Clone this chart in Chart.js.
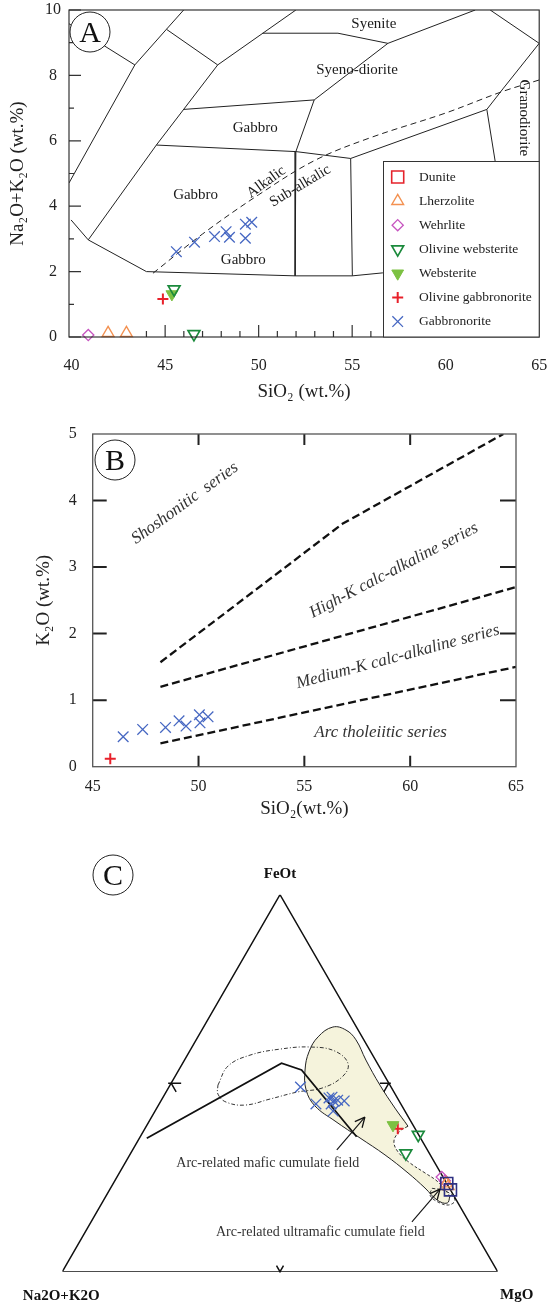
<!DOCTYPE html>
<html><head><meta charset="utf-8">
<script src="https://cdn.jsdelivr.net/npm/chart.js@4.4.1/dist/chart.umd.min.js"></script>
<style>
html,body{margin:0;padding:0;background:#fff;}
body{width:548px;height:1307px;position:relative;overflow:hidden;}
canvas{position:absolute;left:0;}
</style></head><body>
<canvas id="cA" width="548" height="415" style="top:0px"></canvas>
<canvas id="cB" width="548" height="420" style="top:420px"></canvas>
<canvas id="cC" width="548" height="467" style="top:840px"></canvas>
<script>
const SERIF = "'Liberation Serif','Times New Roman',Times,serif";
const SQ3 = Math.sqrt(3);

/* ===== shared categories ===== */
const rockTypes = ['Dunite','Lherzolite','Wehrlite','Olivine websterite','Websterite','Olivine gabbronorite','Gabbronorite'];

/* ===== Panel A : TAS (SiO2, Na2O+K2O) ===== */
const tasXTicks = [40,45,50,55,60,65];
const tasYTicks = [0,2,4,6,8,10];
const tasXMajorMarks = [45,50,55];
const tasXMinorMarks = [44,46,47,48,49,51,52,53,54,56,57,58,59,60,61,62,63,64];
const tasYMinorMarks = [1,3,5,7,9];
const tasDunite = [];
const tasLherzolite = [[41.95,0.12],[42.93,0.12]];
const tasWehrlite = [[40.89,0.06]];
const tasOlWebsterite = [[45.48,1.46],[46.54,0.09]];
const tasWebsterite = [[45.36,1.31]];
const tasOlGabbronorite = [[44.88,1.16]];
const tasGabbronorite = [[45.60,2.61],[46.57,2.90],[47.64,3.07],[48.26,3.22],[48.44,3.05],[49.29,3.45],[49.63,3.51],[49.29,3.02]];
const tasFieldLines = [
  [[39.86,4.71],[43.38,8.32],[45.07,9.41],[45.99,10]],
  [[39.86,9.58],[43.38,8.32]],
  [[45.07,9.41],[47.81,8.32]],
  [[51.99,10],[47.81,8.32],[44.53,5.87],[40.89,2.97]],
  [[50.21,9.29],[54.24,9.29],[56.91,8.98]],
  [[61.58,10],[56.91,8.98],[52.97,7.25],[51.99,5.67],[51.95,1.87]],
  [[45.99,6.96],[52.97,7.25]],
  [[62.38,10],[65,8.98]],
  [[65,8.98],[63.09,7.61],[62.2,6.96],[62.65,5.36],[62.7,4.9]],
  [[54.92,5.46],[62.2,6.96]],
  [[44.53,5.87],[51.99,5.67],[54.92,5.46],[55.01,1.87]],
  [[39.97,3.58],[40.89,2.97],[44.0,2.0],[51.95,1.87],[55.01,1.87],[56.61,1.96],[58.5,2.05]]
];
const tasAlkalineDivide = [[44.35,1.95],[47,3.15],[50,4.35],[53,5.4],[56,6.1],[60,6.85],[63,7.5],[65,7.86]];
const tasFieldLabels = [
  {text:'Syenite', x:56.16, y:9.57, rot:0},
  {text:'Syeno-diorite', x:55.26, y:8.17, rot:0},
  {text:'Gabbro', x:49.82, y:6.39, rot:0},
  {text:'Gabbro', x:46.63, y:4.34, rot:0},
  {text:'Gabbro', x:49.18, y:2.35, rot:0},
  {text:'Alkalic', x:50.41, y:4.74, rot:-36},
  {text:'Sub-alkalic', x:52.22, y:4.62, rot:-31},
  {text:'Granodiorite', x:64.21, y:6.70, rot:90}
];

/* ===== Panel B : SiO2 vs K2O ===== */
const k2oXTicks = [45,50,55,60,65];
const k2oYTicks = [0,1,2,3,4,5];
const k2oXMarks = [50,55,60];
const k2oYMarks = [1,2,3,4];
const k2oOlGabbronorite = [[45.83,0.12]];
const k2oGabbronorite = [[46.44,0.45],[47.36,0.56],[48.44,0.59],[49.08,0.69],[49.41,0.61],[50.04,0.78],[50.07,0.66],[50.45,0.75]];
const k2oShoshoniticLine = [[48.2,1.57],[56.8,3.65],[64.4,5.0]];
const k2oHighKLine = [[48.2,1.2],[65,2.7]];
const k2oTholeiiticLine = [[48.2,0.35],[65,1.5]];
const k2oSeriesLabels = [
  {text:'Shoshonitic  series', x:49.36, y:3.96, rot:-36},
  {text:'High-K calc-alkaline series', x:59.23, y:2.95, rot:-27.6},
  {text:'Medium-K calc-alkaline series', x:59.42, y:1.65, rot:-15},
  {text:'Arc tholeiitic series', x:58.6, y:0.52, rot:0}
];

/* ===== Panel C : AFM ternary [Na2O+K2O, FeOt, MgO] ===== */
const afmTriangle = [[100,0,0],[0,100,0],[0,0,100],[100,0,0]];
const afmDunite = [[0,23.4,76.6],[0,21.7,78.3]];
const afmLherzolite = [[0.1,23.4,76.5],[0,22.7,77.3]];
const afmWehrlite = [[0.3,25.1,74.6],[0.1,24.1,75.8]];
const afmOlWebsterite = [[0.1,36.3,63.6],[5.4,31.4,63.2]];
const afmWebsterite = [[4.6,38.9,56.5]];
const afmOlGabbronorite = [[4.0,37.9,58.1]];
const afmGabbronorite = [[20.8,49.0,30.2],[19.5,44.5,36.0],[15.7,46.1,38.2],[14.9,46.3,38.8],[15.0,45.3,39.7],[14.0,45.5,40.5],[12.6,45.3,42.1],[16.5,42.6,40.9],[16.0,44.5,39.5]];
const afmTholCalcLine = [[62.9,35.4,1.7],[22.0,55.3,22.7],[18.3,53.5,28.2],[14.5,35.8,49.7]];
const afmDashedField = [[39.5,49.5,11.0],[34.7,54.6,10.8],[28.2,57.5,14.4],[20.5,59.1,20.5],[13.3,59.6,27.1],[8.1,58.5,33.4],[6.8,55.1,38.1],[9.9,51.6,38.4],[16.0,48.7,35.3],[22.0,47.7,30.3],[29.4,45.8,24.8],[35.9,44.2,19.9],[39.9,45.0,15.1],[40.7,47.1,12.2],[39.5,49.5,11.0]];
const afmShadedField = [[0.9,20.1,79.0],[2.5,18.2,79.3],[4.4,19.0,76.6],[5.6,22.2,72.2],[7.5,26.2,66.3],[10.4,31.0,58.7],[13.9,35.5,50.7],[17.4,40.0,42.7],[20.0,44.0,36.1],[19.9,48.2,31.9],[17.5,53.5,29.0],[14.2,58.3,27.5],[10.1,62.3,27.6],[5.4,64.9,29.7],[2.8,64.1,33.1],[1.8,61.5,36.7],[2.2,56.2,41.7],[2.3,49.5,48.2],[1.9,43.4,54.7],[1.3,38.6,60.1],[3.8,37.3,58.9],[6.5,34.7,58.9],[7.0,31.8,61.2],[5.7,28.8,65.4],[3.6,26.2,70.2],[1.8,23.8,74.4],[0.9,20.1,79.0]];
const afmTipField = [[4.0,22.1,73.8],[1.2,21.4,77.4],[0.3,19.0,80.7],[2.4,17.7,79.9],[4.5,18.5,77.0],[5.4,20.3,74.3],[4.0,22.1,73.8]];
const afmArrows = [[[20.8,32.3,46.9],[10.0,41.0,49.0]], [[13.1,13.2,73.7],[2.3,21.9,75.8]]];
const afmFieldLabels = [
  {text:'Arc-related mafic cumulate field', at:[38.4,28.8,32.8]},
  {text:'Arc-related ultramafic cumulate field', at:[35.5,10.5,54.0]}
];

/* ===== styles ===== */
const rockStyle = {
  'Dunite': {pointStyle:'rect', rotation:0, radius:8.5, color:'#e5232b', fill:'rgba(0,0,0,0)', width:1.6},
  'Lherzolite': {pointStyle:'triangle', rotation:0, radius:6.8, color:'#f39151', fill:'rgba(0,0,0,0)', width:1.4},
  'Wehrlite': {pointStyle:'rectRot', rotation:0, radius:5.6, color:'#c755c0', fill:'rgba(0,0,0,0)', width:1.3},
  'Olivine websterite': {pointStyle:'triangle', rotation:180, radius:6.8, color:'#1b8a3c', fill:'rgba(0,0,0,0)', width:1.7},
  'Websterite': {pointStyle:'triangle', rotation:180, radius:6.8, color:'#7cc142', fill:'#7cc142', width:1},
  'Olivine gabbronorite': {pointStyle:'cross', rotation:0, radius:5.5, color:'#e8202a', fill:'#e8202a', width:2},
  'Gabbronorite': {pointStyle:'crossRot', rotation:0, radius:7.5, color:'#4667c2', fill:'#4667c2', width:1.3}
};

function toPts(arr){ return arr.map(p => ({x:p[0], y:p[1]})); }
function afmXY(t){ const s=t[0]+t[1]+t[2]; const f=t[1]/s*100, m=t[2]/s*100; return [m+f/2, f*SQ3/2]; }
function afmPts(arr){ return arr.map(afmXY); }
function markerDS(name, arr, extra){
  const s = rockStyle[name];
  return Object.assign({
    label:name, data:toPts(arr), showLine:false, clip:false, order:0,
    pointStyle:s.pointStyle, pointRotation:s.rotation, pointRadius:s.radius,
    pointBorderColor:s.color, pointBackgroundColor:s.fill, pointBorderWidth:s.width,
    borderColor:s.color, backgroundColor:s.fill
  }, extra || {});
}
function lineDS(arr, extra){
  return Object.assign({
    label:'', data:toPts(arr), showLine:true, pointRadius:0, borderColor:'#222', borderWidth:1,
    fill:false, tension:0, order:10, borderCapStyle:'butt'
  }, extra || {});
}
function axis(min, max, ticks, extra){
  return Object.assign({
    type:'linear', min, max,
    afterBuildTicks: s => { s.ticks = ticks.map(v => ({value:v})); },
    grid:{display:false, drawTicks:false}, border:{display:false}
  }, extra || {});
}
function baseOptions(padding, scales){
  return {responsive:false, animation:false, events:[], layout:{padding},
    plugins:{legend:{display:false}, tooltip:{enabled:false}}, scales};
}
function badge(ctx, cx, cy, letter){
  ctx.save();
  ctx.beginPath(); ctx.arc(cx, cy, 20, 0, Math.PI*2);
  ctx.fillStyle='#fff'; ctx.fill(); ctx.lineWidth=1; ctx.strokeStyle='#222'; ctx.stroke();
  ctx.fillStyle='#111'; ctx.font='30px '+SERIF; ctx.textAlign='center'; ctx.textBaseline='middle';
  ctx.fillText(letter, cx, cy+2);
  ctx.restore();
}
function rotText(ctx, text, px, py, rot){
  ctx.save(); ctx.translate(px, py); ctx.rotate(rot*Math.PI/180); ctx.fillText(text, 0, 0); ctx.restore();
}

/* ===== Panel A chart ===== */
const tasSeries = {'Dunite':tasDunite,'Lherzolite':tasLherzolite,'Wehrlite':tasWehrlite,'Olivine websterite':tasOlWebsterite,'Websterite':tasWebsterite,'Olivine gabbronorite':tasOlGabbronorite,'Gabbronorite':tasGabbronorite};
const tasDecor = {
  id:'tasDecor',
  afterDatasetsDraw(chart){
    const {ctx, chartArea:a, scales:{x, y}} = chart;
    ctx.save();
    ctx.strokeStyle='#333'; ctx.lineWidth=1.2; ctx.beginPath();
    tasYTicks.forEach(v => { const p=y.getPixelForValue(v); ctx.moveTo(a.left,p); ctx.lineTo(a.left+12,p); });
    tasYMinorMarks.forEach(v => { const p=y.getPixelForValue(v); ctx.moveTo(a.left,p); ctx.lineTo(a.left+5,p); });
    tasXMajorMarks.forEach(v => { const p=x.getPixelForValue(v); ctx.moveTo(p,a.bottom); ctx.lineTo(p,a.bottom-12); });
    tasXMinorMarks.forEach(v => { const p=x.getPixelForValue(v); ctx.moveTo(p,a.bottom); ctx.lineTo(p,a.bottom-6); });
    ctx.stroke();
    ctx.lineWidth=1.1; ctx.strokeStyle='#222';
    ctx.strokeRect(a.left, a.top, a.right-a.left, a.bottom-a.top);
    ctx.fillStyle='#1a1a1a'; ctx.textAlign='center'; ctx.textBaseline='middle'; ctx.font='15px '+SERIF;
    tasFieldLabels.forEach(l => rotText(ctx, l.text, x.getPixelForValue(l.x), y.getPixelForValue(l.y), l.rot));
    // legend box
    const L = {left:383.5, top:161.5, right:a.right, bottom:a.bottom};
    ctx.fillStyle='#fff'; ctx.fillRect(L.left, L.top, L.right-L.left, L.bottom-L.top);
    ctx.strokeStyle='#333'; ctx.lineWidth=1; ctx.strokeRect(L.left, L.top, L.right-L.left, L.bottom-L.top);
    rockTypes.forEach((name, i) => {
      const s = rockStyle[name]; const cy = L.top + 15.5 + i*24.1;
      ctx.save();
      ctx.strokeStyle=s.color; ctx.fillStyle=s.fill; ctx.lineWidth=s.width;
      if (Chart.helpers && Chart.helpers.drawPoint) {
        Chart.helpers.drawPoint(ctx, {pointStyle:s.pointStyle, rotation:s.rotation, radius:s.radius, borderWidth:s.width}, 397.7, cy);
      }
      ctx.restore();
      ctx.fillStyle='#222'; ctx.font='13.5px '+SERIF; ctx.textAlign='left'; ctx.textBaseline='middle';
      ctx.fillText(name, 419, cy);
    });
    badge(ctx, 90, 32, 'A');
    ctx.restore();
  }
};
new Chart(document.getElementById('cA'), {
  type:'line',
  data:{datasets:[
    ...rockTypes.map(n => markerDS(n, tasSeries[n])),
    ...tasFieldLines.map(l => lineDS(l)),
    lineDS(tasAlkalineDivide, {borderDash:[6,4], tension:0.35})
  ]},
  options: baseOptions({top:10, right:7, left:0, bottom:0}, {
    x: axis(39.86, 65, tasXTicks, {
      afterFit: s => { s.height = 78; s.paddingLeft = 0; s.paddingRight = 0; },
      ticks:{font:{family:SERIF, size:16}, color:'#222', padding:19, labelOffset:0, maxRotation:0, autoSkip:false},
      title:{display:true, text:'SiO₂ (wt.%)', font:{family:SERIF, size:19}, color:'#222', padding:{top:0, bottom:12}}
    }),
    y: axis(0, 10, tasYTicks, {
      afterFit: s => { s.width = 69; s.paddingTop = 0; s.paddingBottom = 0; },
      ticks:{font:{family:SERIF, size:16}, color:'#222', padding:8, crossAlign:'center', autoSkip:false},
      title:{display:true, text:'Na₂O+K₂O (wt.%)', font:{family:SERIF, size:19}, color:'#222', padding:{top:7, bottom:0}}
    })
  }),
  plugins:[tasDecor]
});

/* ===== Panel B chart ===== */
const k2oDecor = {
  id:'k2oDecor',
  afterDatasetsDraw(chart){
    const {ctx, chartArea:a, scales:{x, y}} = chart;
    ctx.save();
    ctx.strokeStyle='#222'; ctx.lineWidth=2; ctx.beginPath();
    k2oYMarks.forEach(v => { const p=y.getPixelForValue(v); ctx.moveTo(a.left,p); ctx.lineTo(a.left+14,p); ctx.moveTo(a.right,p); ctx.lineTo(a.right-16,p); });
    k2oXMarks.forEach(v => { const p=x.getPixelForValue(v); ctx.moveTo(p,a.top); ctx.lineTo(p,a.top+11); ctx.moveTo(p,a.bottom); ctx.lineTo(p,a.bottom-11); });
    ctx.stroke();
    ctx.lineWidth=1.3; ctx.strokeStyle='#555';
    ctx.strokeRect(a.left, a.top, a.right-a.left, a.bottom-a.top);
    ctx.fillStyle='#333'; ctx.textAlign='center'; ctx.textBaseline='middle'; ctx.font='italic 17px '+SERIF;
    k2oSeriesLabels.forEach(l => rotText(ctx, l.text, x.getPixelForValue(l.x), y.getPixelForValue(l.y), l.rot));
    badge(ctx, 115, 40, 'B');
    ctx.restore();
  }
};
const dashLine = {borderDash:[8,4], borderWidth:2.3, borderColor:'#111'};
new Chart(document.getElementById('cB'), {
  type:'line',
  data:{datasets:[
    markerDS('Olivine gabbronorite', k2oOlGabbronorite),
    markerDS('Gabbronorite', k2oGabbronorite),
    lineDS(k2oShoshoniticLine, dashLine),
    lineDS(k2oHighKLine, dashLine),
    lineDS(k2oTholeiiticLine, dashLine)
  ]},
  options: baseOptions({top:14, right:32, left:0, bottom:0}, {
    x: axis(45, 65, k2oXTicks, {
      afterFit: s => { s.height = 73.3; s.paddingLeft = 0; s.paddingRight = 0; },
      ticks:{font:{family:SERIF, size:16}, color:'#222', padding:10, maxRotation:0, autoSkip:false},
      title:{display:true, text:'SiO₂(wt.%)', font:{family:SERIF, size:19}, color:'#222', padding:{top:0, bottom:20}}
    }),
    y: axis(0, 5, k2oYTicks, {
      afterFit: s => { s.width = 92.7; s.paddingTop = 0; s.paddingBottom = 0; },
      ticks:{font:{family:SERIF, size:16}, color:'#222', padding:16, autoSkip:false},
      title:{display:true, text:'K₂O (wt.%)', font:{family:SERIF, size:19}, color:'#222', padding:{top:33, bottom:0}}
    })
  }),
  plugins:[k2oDecor]
});

/* ===== Panel C chart ===== */
const afmSeries = {'Dunite':afmDunite,'Lherzolite':afmLherzolite,'Wehrlite':afmWehrlite,'Olivine websterite':afmOlWebsterite,'Websterite':afmWebsterite,'Olivine gabbronorite':afmOlGabbronorite,'Gabbronorite':afmGabbronorite};
const afmDecor = {
  id:'afmDecor',
  afterDatasetsDraw(chart){
    const {ctx, scales:{x, y}} = chart;
    const P = t => { const c = afmXY(t); return [x.getPixelForValue(c[0]), y.getPixelForValue(c[1])]; };
    ctx.save();
    ctx.strokeStyle='#111'; ctx.lineWidth=1.5; ctx.beginPath();
    const Lm=P([50,50,0]), Rm=P([0,50,50]), Bm=P([50,0,50]);
    const c60=0.5, s60=SQ3/2;
    ctx.moveTo(Lm[0]-3,Lm[1]); ctx.lineTo(Lm[0]+10,Lm[1]);
    ctx.moveTo(Lm[0],Lm[1]); ctx.lineTo(Lm[0]+10*c60, Lm[1]+10*s60);
    ctx.moveTo(Rm[0]+2,Rm[1]); ctx.lineTo(Rm[0]-9,Rm[1]);
    ctx.moveTo(Rm[0],Rm[1]); ctx.lineTo(Rm[0]-10*c60, Rm[1]+10*s60);
    ctx.moveTo(Bm[0]-7*c60, Bm[1]-7*s60); ctx.lineTo(Bm[0],Bm[1]); ctx.lineTo(Bm[0]+7*c60, Bm[1]-7*s60);
    ctx.stroke();
    ctx.lineWidth=1.3;
    afmArrows.forEach(ar => {
      const p0=P(ar[0]), p1=P(ar[1]);
      const ang=Math.atan2(p1[1]-p0[1], p1[0]-p0[0]);
      ctx.beginPath();
      [-0.45, 0.45].forEach(d => { ctx.moveTo(p1[0],p1[1]); ctx.lineTo(p1[0]-11*Math.cos(ang+d), p1[1]-11*Math.sin(ang+d)); });
      ctx.stroke();
    });
    ctx.fillStyle='#111'; ctx.textAlign='center'; ctx.textBaseline='middle'; ctx.font='bold 15px '+SERIF;
    const Fv=P([0,100,0]), Av=P([100,0,0]), Mv=P([0,0,100]);
    ctx.fillText('FeOt', Fv[0], Fv[1]-21);
    ctx.fillText('Na2O+K2O', Av[0]-1, Av[1]+24);
    ctx.fillText('MgO', Mv[0]+19, Mv[1]+23);
    ctx.font='14px '+SERIF; ctx.fillStyle='#333';
    afmFieldLabels.forEach(l => { const p=P(l.at); ctx.fillText(l.text, p[0], p[1]); });
    badge(ctx, 113, 35, 'C');
    ctx.restore();
  }
};
const cDatasets = [
  ...rockTypes.map(n => markerDS(n, afmPts(afmSeries[n]), n === 'Dunite' ? {pointBorderColor:'#2f3182', borderColor:'#2f3182'} : {})),
  lineDS(afmPts(afmTriangle), {borderWidth:1.5, borderColor:'#111', borderJoinStyle:'miter', order:5}),
  lineDS(afmPts(afmTholCalcLine), {borderWidth:1.8, borderColor:'#111', order:6}),
  ...afmArrows.map(ar => lineDS(afmPts(ar), {borderWidth:1.1, borderColor:'#111', order:6})),
  lineDS(afmPts(afmDashedField), {borderWidth:1, borderColor:'#333', borderDash:[4,2,1,2], tension:0.4, order:7}),
  lineDS(afmPts(afmTipField), {borderWidth:1, borderColor:'#333', borderDash:[3,2], tension:0.4, order:7}),
  lineDS(afmPts(afmShadedField.slice(0,20)), {borderWidth:1, borderColor:'#222', tension:0.4, order:8}),
  lineDS(afmPts(afmShadedField.slice(19)), {borderWidth:1, borderColor:'#333', borderDash:[3,2], tension:0.4, order:8}),
  lineDS(afmPts(afmShadedField), {borderWidth:0, borderColor:'rgba(0,0,0,0)', backgroundColor:'#f5f3dc', fill:'shape', tension:0.4, order:20})
];
new Chart(document.getElementById('cC'), {
  type:'line',
  data:{datasets:cDatasets},
  options: baseOptions({top:54.7, right:50.3, left:62.3, bottom:35.3}, {
    x:{type:'linear', min:0, max:100, display:false},
    y:{type:'linear', min:0, max:100*SQ3/2, display:false}
  }),
  plugins:[afmDecor]
});
</script>
</body></html>
